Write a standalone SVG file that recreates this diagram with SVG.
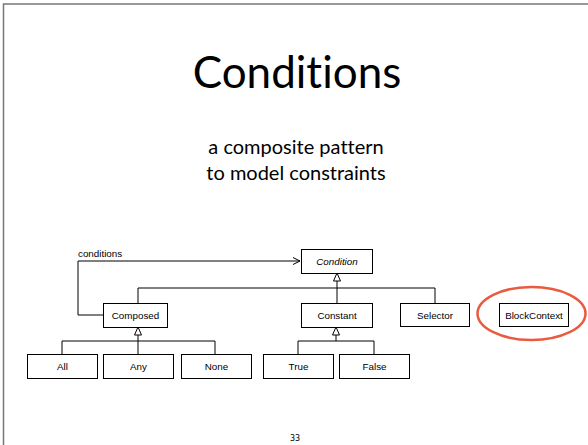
<svg xmlns="http://www.w3.org/2000/svg" width="588" height="445" viewBox="0 0 588 445">
<style>
.box{fill:#fff;stroke:#000;stroke-width:1}
.lbl{font-family:"Liberation Sans",Arial,sans-serif;font-size:9.8px;fill:#000;text-anchor:middle}
.ln{fill:none;stroke:#000;stroke-width:1}
.tri{fill:#fff;stroke:#000;stroke-width:1}
.title{font-family:Lato,"Open Sans",sans-serif;fill:#000;text-anchor:middle;font-variant-ligatures:none;font-feature-settings:"liga" 0}
</style>
<rect x="0" y="0" width="588" height="445" fill="#fff"/>
<path d="M3.5 445 V4 H588" fill="none" stroke="#777" stroke-width="1.5"/>
<text class="title" x="297" y="88" font-size="44">Conditions</text>
<text class="title" x="296" y="154" font-size="20">a composite pattern</text>
<text class="title" x="296" y="180" font-size="20">to model constraints</text>

<g id="connectors">
<path class="ln" d="M103 315 H78 V261 H300"/>
<path class="ln" d="M293 257.5 L300 261 L293 264.5"/>
<text x="78" y="257" font-family="'Liberation Sans',Arial,sans-serif" font-size="9.8" fill="#000">conditions</text>
<path class="ln" d="M337 281 V304 M138 304 V288 H435 V303"/>
<path class="tri" d="M337 273 L333.5 281 H340.5 Z"/>
<path class="ln" d="M138 335 V354 M62 354 V341 H215 V354"/>
<path class="tri" d="M138 327 L134.5 335 H141.5 Z"/>
<path class="ln" d="M336 335 V341 M298 354 V341 H374 V354"/>
<path class="tri" d="M336 327 L332.5 335 H339.5 Z"/>
</g>

<g id="Condition"><rect class="box" x="301.5" y="249.5" width="71" height="24"/><text class="lbl" x="337" y="265" font-style="italic">Condition</text></g>
<g id="Composed"><rect class="box" x="103.5" y="303.5" width="64" height="24"/><text class="lbl" x="135.5" y="319">Composed</text></g>
<g id="Constant"><rect class="box" x="301.5" y="303.5" width="71" height="24"/><text class="lbl" x="337" y="319">Constant</text></g>
<g id="Selector"><rect class="box" x="400.5" y="303.5" width="69" height="23"/><text class="lbl" x="435" y="318.5">Selector</text></g>
<g id="BlockContext"><rect class="box" x="499.5" y="303.5" width="69" height="23"/><text class="lbl" x="534" y="318.5">BlockContext</text></g>
<g id="All"><rect class="box" x="27.5" y="354.5" width="70" height="24"/><text class="lbl" x="62.5" y="370">All</text></g>
<g id="Any"><rect class="box" x="103.5" y="354.5" width="70" height="24"/><text class="lbl" x="138.5" y="370">Any</text></g>
<g id="None"><rect class="box" x="181.5" y="354.5" width="70" height="24"/><text class="lbl" x="216.5" y="370">None</text></g>
<g id="True"><rect class="box" x="263.5" y="354.5" width="70" height="24"/><text class="lbl" x="298.5" y="370">True</text></g>
<g id="False"><rect class="box" x="339.5" y="354.5" width="70" height="24"/><text class="lbl" x="374.5" y="370">False</text></g>

<ellipse cx="531.5" cy="313.5" rx="54" ry="26.5" fill="none" stroke="#ea5a3f" stroke-width="2.5"/>
<text x="295" y="441" font-family="'DejaVu Sans',sans-serif" font-size="8" text-anchor="middle" fill="#000">33</text>
</svg>
